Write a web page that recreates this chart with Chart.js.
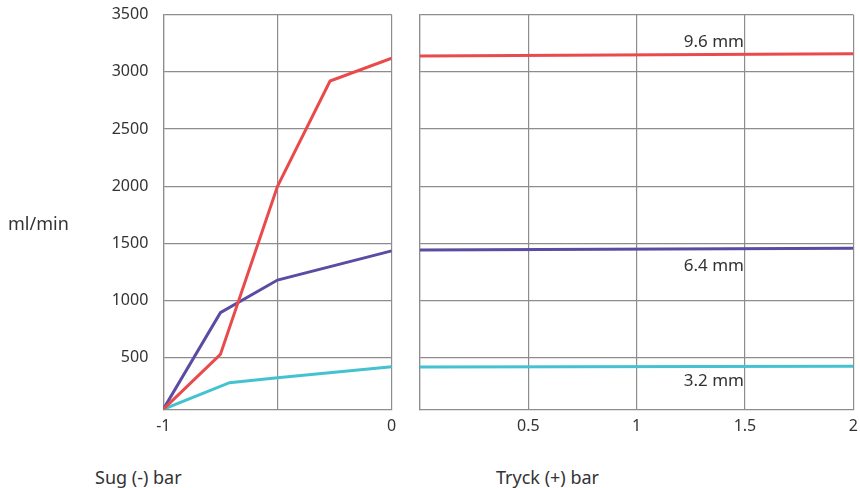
<!DOCTYPE html>
<html>
<head>
<meta charset="utf-8">
<script src="https://cdn.jsdelivr.net/npm/chart.js@4.4.1/dist/chart.umd.min.js"></script>
<style>
  body { margin: 0; background: #fff; width: 860px; height: 488px; position: relative; overflow: hidden;
         font-family: "Noto Sans", sans-serif; color: #333; }
  .box { position: absolute; top: 0; height: 450px; }
  #sugBox { left: 0; width: 400px; }
  #tryckBox { left: 400px; width: 460px; }
  .lbl { position: absolute; font-size: 18px; white-space: nowrap; }
</style>
</head>
<body>
<div id="sugBox" class="box"><canvas id="sug"></canvas></div>
<div id="tryckBox" class="box"><canvas id="tryck"></canvas></div>
<div class="lbl" style="left:8px; top:211px">ml/min</div>
<div class="lbl" style="left:95px; top:465px">Sug (-) bar</div>
<div class="lbl" style="left:496px; top:465px">Tryck (+) bar</div>
<script>
/* flow (ml/min) vs suction / pressure, three nozzle sizes */

const sizes = ['9.6 mm', '6.4 mm', '3.2 mm'];
const colors = ['#E94B4D', '#5C4BA2', '#45C2D1'];

// suction side (bar, negative)
const sugX96 = [-1, -0.75, -0.5, -0.27, 0];
const sugY96 = [50, 530, 2000, 2920, 3120];
const sugX64 = [-1, -0.75, -0.5, 0];
const sugY64 = [50, 895, 1180, 1435];
const sugX32 = [-1, -0.71, -0.5, 0];
const sugY32 = [50, 283, 326, 422];

// pressure side (bar, positive)
const tryckX = [0, 2];
const tryckY96 = [3140, 3158];
const tryckY64 = [1443, 1458];
const tryckY32 = [420, 426];

// axes
const yMin = 50, yMax = 3500;
const yTicks = [500, 1000, 1500, 2000, 2500, 3000, 3500];
const sugTicks = [-1, -0.5, 0];
const sugLabels = ['-1', '', '0'];
const tryckTicks = [0, 0.5, 1, 1.5, 2];
const tryckLabels = ['', '0.5', '1', '1.5', '2'];

const gridColor = '#8d8d8d';
const tickFont = { family: 'Noto Sans', size: 16 };

const pts = (xs, ys) => xs.map((x, i) => ({ x, y: ys[i] }));

function lineSet(label, data, color) {
  return { label, data, borderColor: color, borderWidth: 3, pointRadius: 0, tension: 0, fill: false };
}

// gap between axis and labels comes from invisible tick marks, so the
// label padding does not push the plot area inwards
function yScale(width, showLabels) {
  return {
    type: 'linear', min: yMin, max: yMax,
    afterFit: s => { s.width = width; },
    afterBuildTicks: s => { s.ticks = yTicks.map(v => ({ value: v })); },
    grid: { color: gridColor, lineWidth: 1.2, tickLength: 15, tickColor: 'rgba(0,0,0,0)' },
    border: { color: gridColor, width: 1.2 },
    ticks: { display: showLabels, padding: 0, color: '#333', font: tickFont, callback: v => String(v) }
  };
}

function xScale(min, max, vals, labels) {
  return {
    type: 'linear', min, max,
    afterFit: s => { s.height = 40.7; },
    afterBuildTicks: s => { s.ticks = vals.map(v => ({ value: v })); },
    grid: { color: gridColor, lineWidth: 1.2, tickLength: 8, tickColor: 'rgba(0,0,0,0)' },
    border: { color: gridColor, width: 1.2 },
    ticks: {
      padding: 0, color: '#333', font: tickFont, maxRotation: 0, autoSkip: false,
      callback: (v, i) => labels[i]
    }
  };
}

new Chart(document.getElementById('sug'), {
  type: 'line',
  data: {
    datasets: [
      lineSet(sizes[0], pts(sugX96, sugY96), colors[0]),
      lineSet(sizes[1], pts(sugX64, sugY64), colors[1]),
      lineSet(sizes[2], pts(sugX32, sugY32), colors[2])
    ]
  },
  options: {
    responsive: true, maintainAspectRatio: false, animation: false,
    layout: { padding: { left: 0, right: 8.3, top: 14.7, bottom: 0 } },
    plugins: { legend: { display: false }, tooltip: { enabled: false } },
    scales: { x: xScale(-1, 0, sugTicks, sugLabels), y: yScale(163.3, true) }
  }
});

// size labels next to the flat lines
const sizeLabels = {
  id: 'sizeLabels',
  afterDatasetsDraw(chart) {
    const { ctx, scales: { x, y } } = chart;
    const offs = [-14, 16, 14];
    ctx.save();
    ctx.font = '17px "Noto Sans"';
    ctx.fillStyle = '#333';
    ctx.textAlign = 'right';
    ctx.textBaseline = 'middle';
    chart.data.datasets.forEach((ds, i) => {
      ctx.fillText(ds.label, x.getPixelForValue(1.5) - 1, y.getPixelForValue(ds.data[0].y) + offs[i]);
    });
    ctx.restore();
  }
};

new Chart(document.getElementById('tryck'), {
  type: 'line',
  data: {
    datasets: [
      lineSet(sizes[0], pts(tryckX, tryckY96), colors[0]),
      lineSet(sizes[1], pts(tryckX, tryckY64), colors[1]),
      lineSet(sizes[2], pts(tryckX, tryckY32), colors[2])
    ]
  },
  options: {
    responsive: true, maintainAspectRatio: false, animation: false,
    layout: { padding: { left: 0, right: 6.7, top: 14.7, bottom: 0 } },
    plugins: { legend: { display: false }, tooltip: { enabled: false } },
    scales: { x: xScale(0, 2, tryckTicks, tryckLabels), y: yScale(20, false) }
  },
  plugins: [sizeLabels]
});
</script>
</body>
</html>
